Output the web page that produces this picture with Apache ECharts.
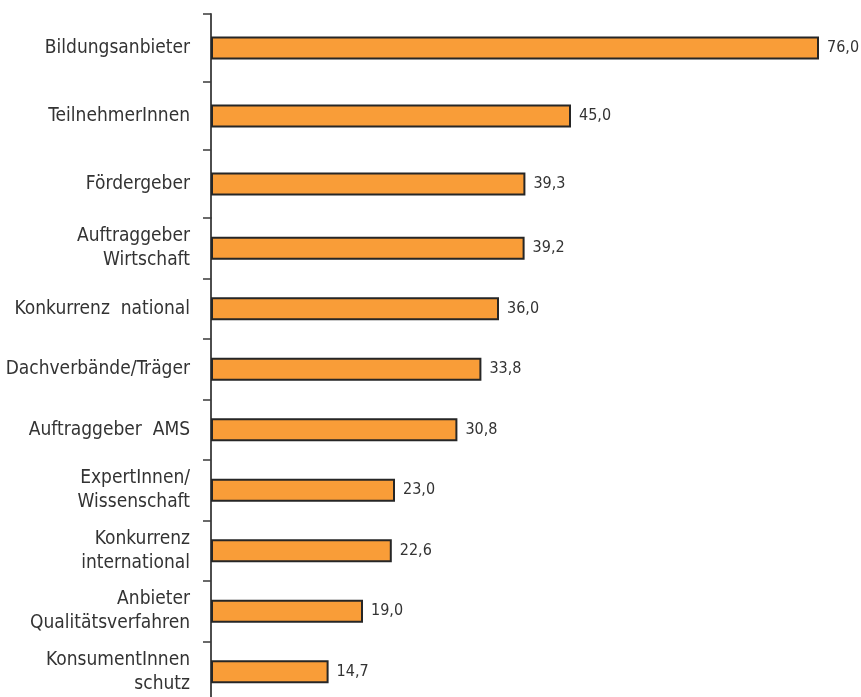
<!DOCTYPE html>
<html>
<head>
<meta charset="utf-8">
<script src="https://cdn.jsdelivr.net/npm/echarts@6/dist/echarts.min.js"></script>
<style>html,body{margin:0;padding:0;background:#fff;overflow:hidden}#c{width:861px;height:705px}</style>
</head>
<body>
<div id="c"></div>
<script>
const categories = [
  "Bildungsanbieter",
  "TeilnehmerInnen",
  "Fördergeber",
  "Auftraggeber\nWirtschaft",
  "Konkurrenz  national",
  "Dachverbände/Träger",
  "Auftraggeber  AMS",
  "ExpertInnen/\nWissenschaft",
  "Konkurrenz\ninternational",
  "Anbieter\nQualitätsverfahren",
  "KonsumentInnen\nschutz"
];
const values = [76.0, 45.0, 39.3, 39.2, 36.0, 33.8, 30.8, 23.0, 22.6, 19.0, 14.7];
// the reference spaces the first three rows wider than the rest
const split = 3;

const FONT = "'DejaVu Sans Condensed', 'DejaVu Sans'";
const axisCommon = {
  type: 'category',
  inverse: true,
  axisLine: {show: true, lineStyle: {color: '#3a3a3a', width: 1.8}},
  axisTick: {show: true, inside: false, length: 8, alignWithLabel: false, lineStyle: {color: '#3a3a3a', width: 1.5}},
  axisLabel: {margin: 21, fontSize: 19, color: '#333', lineHeight: 24, fontFamily: FONT}
};
const seriesCommon = {
  type: 'bar',
  barWidth: 23,
  itemStyle: {color: '#F99D38', borderColor: '#262626', borderWidth: 2},
  label: {
    show: true, position: 'right', distance: 8, fontSize: 16, color: '#333', fontFamily: FONT,
    formatter: p => p.value.toFixed(1).replace('.', ',')
  }
};

const chart = echarts.init(document.getElementById('c'), null, {renderer: 'canvas'});
chart.setOption({
  animation: false,
  textStyle: {fontFamily: FONT},
  grid: [
    {left: 211, right: 10, top: 14, height: 204, containLabel: false},
    {left: 211, right: 10, top: 218, height: 484, containLabel: false}
  ],
  xAxis: [
    {gridIndex: 0, type: 'value', min: 0, max: 80, show: false},
    {gridIndex: 1, type: 'value', min: 0, max: 80, show: false}
  ],
  yAxis: [
    Object.assign({gridIndex: 0, data: categories.slice(0, split)}, axisCommon),
    Object.assign({gridIndex: 1, data: categories.slice(split)}, axisCommon)
  ],
  series: [
    Object.assign({xAxisIndex: 0, yAxisIndex: 0, data: values.slice(0, split)}, seriesCommon),
    Object.assign({xAxisIndex: 1, yAxisIndex: 1, data: values.slice(split)}, seriesCommon)
  ]
});
</script>
</body>
</html>
